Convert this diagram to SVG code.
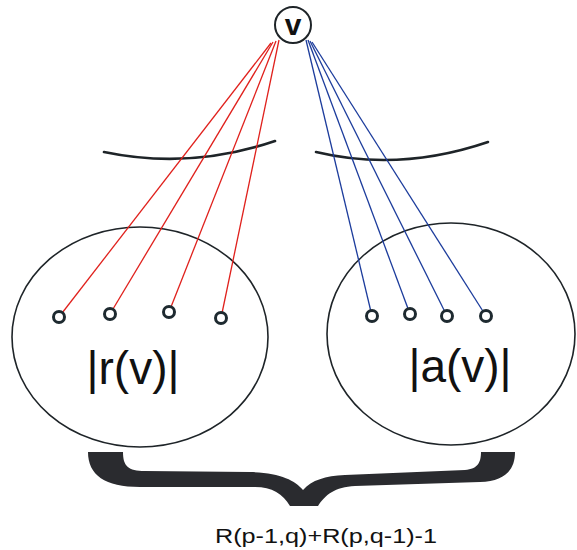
<svg xmlns="http://www.w3.org/2000/svg" width="577" height="550" viewBox="0 0 577 550">
<style>
.set{fill:none;stroke:#1e2428;stroke-width:1.6}
.arc{fill:none;stroke:#1e2428;stroke-width:2.6;stroke-linecap:round}
.el{fill:#fff;stroke:#1e2a30;stroke-width:3}
.red{stroke:#e0201c;stroke-width:1.3;fill:none}
.blue{stroke:#1c3c9c;stroke-width:1.3;fill:none}
.lbl{font-family:"Liberation Sans",Arial,sans-serif;fill:#111}
</style>
<rect width="577" height="550" fill="#fff"/>
<g id="set-r"><ellipse class="set" cx="140" cy="337" rx="128" ry="110"/></g>
<g id="set-a"><ellipse class="set" cx="451" cy="334" rx="124" ry="111"/></g>
<g id="arcs">
<path class="arc" d="M104,152 Q190,170 275,141"/>
<path class="arc" d="M316,152 Q400,172 488,142"/>
</g>
<g id="connectors">
<line class="red" x1="271" y1="43" x2="59" y2="317"/>
<line class="red" x1="273" y1="42" x2="110" y2="314"/>
<line class="red" x1="276" y1="41" x2="169" y2="312"/>
<line class="red" x1="279" y1="40" x2="221" y2="318"/>
<line class="blue" x1="306" y1="40" x2="372" y2="316"/>
<line class="blue" x1="308" y1="40" x2="410" y2="314"/>
<line class="blue" x1="310" y1="41" x2="447" y2="316"/>
<line class="blue" x1="312" y1="42" x2="486" y2="316"/>
</g>
<g id="node-v">
<circle cx="293" cy="25" r="18" fill="#fff" stroke="#1e2428" stroke-width="2"/>
<text class="lbl" x="293" y="35" font-size="30" font-weight="bold" text-anchor="middle">v</text>
</g>
<g id="r-nodes">
<circle class="el" cx="59" cy="317" r="5.5"/>
<circle class="el" cx="110" cy="314" r="5.5"/>
<circle class="el" cx="169" cy="312" r="5.5"/>
<circle class="el" cx="221" cy="318" r="5.5"/>
</g>
<g id="a-nodes">
<circle class="el" cx="372" cy="316" r="5.5"/>
<circle class="el" cx="410" cy="314" r="5.5"/>
<circle class="el" cx="447" cy="316" r="5.5"/>
<circle class="el" cx="486" cy="316" r="5.5"/>
</g>
<text class="lbl" x="133" y="384" font-size="46" text-anchor="middle">|r(v)|</text>
<text class="lbl" x="460" y="382" font-size="46" text-anchor="middle">|a(v)|</text>
<g id="brace">
<path fill="#2a2b2f" d="M88,452 L123,452 C123,466 128,471 145,471 L250,472 C280,473 295,480 303,490 C312,480 325,476 345,475 L465,470 C478,469 481,462 481,452 L515,452 C515,470 505,481 480,482 L355,486 C335,487 325,495 318,506 L290,506 C283,494 272,487 255,487 L140,487 C105,487 88,475 88,452 Z"/>
</g>
<text class="lbl" x="215" y="543" font-size="21" textLength="222" lengthAdjust="spacingAndGlyphs">R(p-1,q)+R(p,q-1)-1</text>
</svg>
